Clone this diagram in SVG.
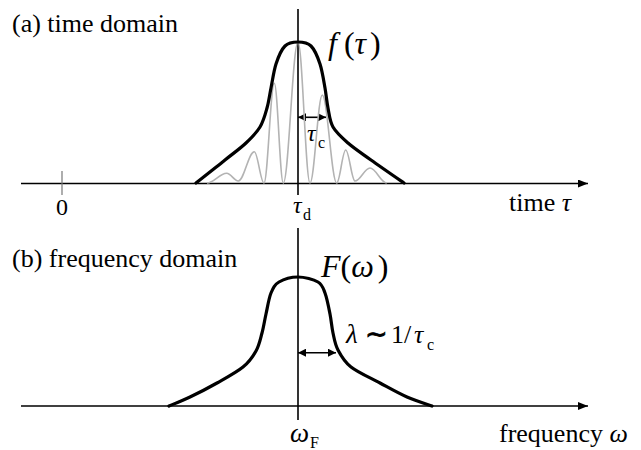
<svg xmlns="http://www.w3.org/2000/svg" width="641" height="450" viewBox="0 0 641 450">
<defs>
<style>
text{font-family:"Liberation Serif","Times New Roman",serif;fill:#000}
.it{font-style:italic}
.axis{stroke:#000;stroke-width:1.6;fill:none}
.env{stroke:#000;stroke-width:3.2;fill:none;stroke-linecap:round;stroke-linejoin:round}
.wave{stroke:#b3b3b3;stroke-width:1.6;fill:none}
.dim{stroke:#000;stroke-width:1.6;fill:none}
</style>
<marker id="ah" viewBox="0 0 10 8" refX="10" refY="4" markerWidth="10" markerHeight="8" markerUnits="userSpaceOnUse" orient="auto-start-reverse">
<path d="M0,0 L10,4 L0,8 Z" fill="#000"/>
</marker>
<marker id="dh" viewBox="0 0 8 8" refX="8" refY="4" markerWidth="8" markerHeight="8" markerUnits="userSpaceOnUse" orient="auto-start-reverse">
<path d="M0,0 L8,4 L0,8 Z" fill="#000"/>
</marker>
</defs>
<rect width="641" height="450" fill="#fff"/>

<g id="panel-a-title"><text x="12" y="32" font-size="26">(a) time domain</text></g>
<g id="panel-b-title"><text x="12" y="267" font-size="26">(b) frequency domain</text></g>

<g id="connectors">
<line class="axis" x1="21" y1="183.5" x2="588" y2="183.5" marker-end="url(#ah)"/>
<line x1="62" y1="171" x2="62" y2="195" stroke="#777" stroke-width="1.2"/>
<line class="axis" x1="298" y1="9" x2="298" y2="195"/>
<line class="axis" x1="21" y1="406" x2="588" y2="406" marker-end="url(#ah)"/>
<line class="axis" x1="298" y1="228" x2="298" y2="420"/>
<line class="dim" x1="298" y1="117.3" x2="326" y2="117.3" marker-start="url(#dh)" marker-end="url(#dh)"/>
<line class="dim" x1="298" y1="352.7" x2="336" y2="352.7" marker-start="url(#dh)" marker-end="url(#dh)"/>
</g>

<g id="time-signal">
<path class="wave" d="M207,183 C214.2,183 219.5,173.3 226.7,173.3 C230.9,173.3 234.1,181 238.3,181 C244.1,181 248.5,151.7 254.3,151.7 C257.8,151.7 260.5,183 264,183 C267.7,183 270.6,83.3 274.3,83.3 C277.6,83.3 280,183 283.3,183 C288.7,183 292.6,42 298,42 C302.4,42 305.6,183 310,183 C314.5,183 317.8,95 322.3,95 C327.5,95 331.5,183 336.7,183 C340,183 342.4,150 345.7,150 C349.1,150 351.6,181 355,181 C360.5,181 364.5,168 370,168 C376.1,168 380.6,183 386.7,183"/>
<path class="env" d="M196,183 C200.8,179.2 216.7,166.7 225,160 C233.3,153.3 240.2,148.5 246,143 C251.8,137.5 256.5,132.8 260,127 C263.5,121.2 265.2,114.5 267,108 C268.8,101.5 269.5,95.3 271,88 C272.5,80.7 273.7,71 276,64 C278.3,57 281.3,49.7 285,46 C288.7,42.3 293.7,42 298,42 C302.3,42 307.3,42.3 311,46 C314.7,49.7 317.7,57 320,64 C322.3,71 323.7,80.7 325,88 C326.3,95.3 326.7,101.5 328,108 C329.3,114.5 329.7,121.2 333,127 C336.3,132.8 341.7,137.5 348,143 C354.3,148.5 361.7,153.3 371,160 C380.3,166.7 398.5,179.2 404,183"/>
</g>

<g id="freq-signal">
<path class="env" d="M169,406 C172.5,404.5 182,400.8 190,397 C198,393.2 208.2,388 217,383 C225.8,378 236.5,372.3 243,367 C249.5,361.7 252.8,356.7 256,351 C259.2,345.3 260.3,339.2 262,333 C263.7,326.8 264.5,320.7 266,314 C267.5,307.3 268.8,298.3 271,293 C273.2,287.7 274.5,284.7 279,282 C283.5,279.3 291.5,277 298,277 C304.5,277 313.5,279.3 318,282 C322.5,284.7 323,287.7 325,293 C327,298.3 328.7,307.3 330,314 C331.3,320.7 331.7,327 333,333 C334.3,339 335,344.3 338,350 C341,355.7 344,361.5 351,367 C358,372.5 370.7,378 380,383 C389.3,388 398.3,393.2 407,397 C415.7,400.8 427.8,404.5 432,406"/>
</g>

<g id="labels-time">
<text x="328" y="54" font-size="32"><tspan class="it">f</tspan><tspan dx="7">(</tspan><tspan class="it">τ</tspan><tspan dx="4">)</tspan></text>
<text x="307" y="141" font-size="24" class="it">τ</text>
<text x="318" y="148" font-size="16">c</text>
<text x="62" y="215" font-size="24" text-anchor="middle">0</text>
<text x="293" y="213" font-size="24" class="it">τ</text>
<text x="303" y="220" font-size="16">d</text>
<text x="509" y="211" font-size="26">time <tspan class="it">τ</tspan></text>
</g>

<g id="labels-freq">
<text x="321" y="277" font-size="32"><tspan class="it">F</tspan>(<tspan class="it">ω</tspan><tspan dx="4">)</tspan></text>
<text x="346" y="343" font-size="27" class="it">λ</text>
<text x="365" y="343" font-size="27" stroke="#000" stroke-width="0.8">∼</text>
<text x="391" y="343" font-size="26">1/</text>
<text x="414" y="343" font-size="26" class="it">τ</text>
<text x="427" y="350" font-size="16">c</text>
<text x="290" y="442" font-size="27" class="it">ω</text>
<text x="310" y="448" font-size="16">F</text>
<text x="499" y="442" font-size="26">frequency <tspan class="it">ω</tspan></text>
</g>
</svg>
